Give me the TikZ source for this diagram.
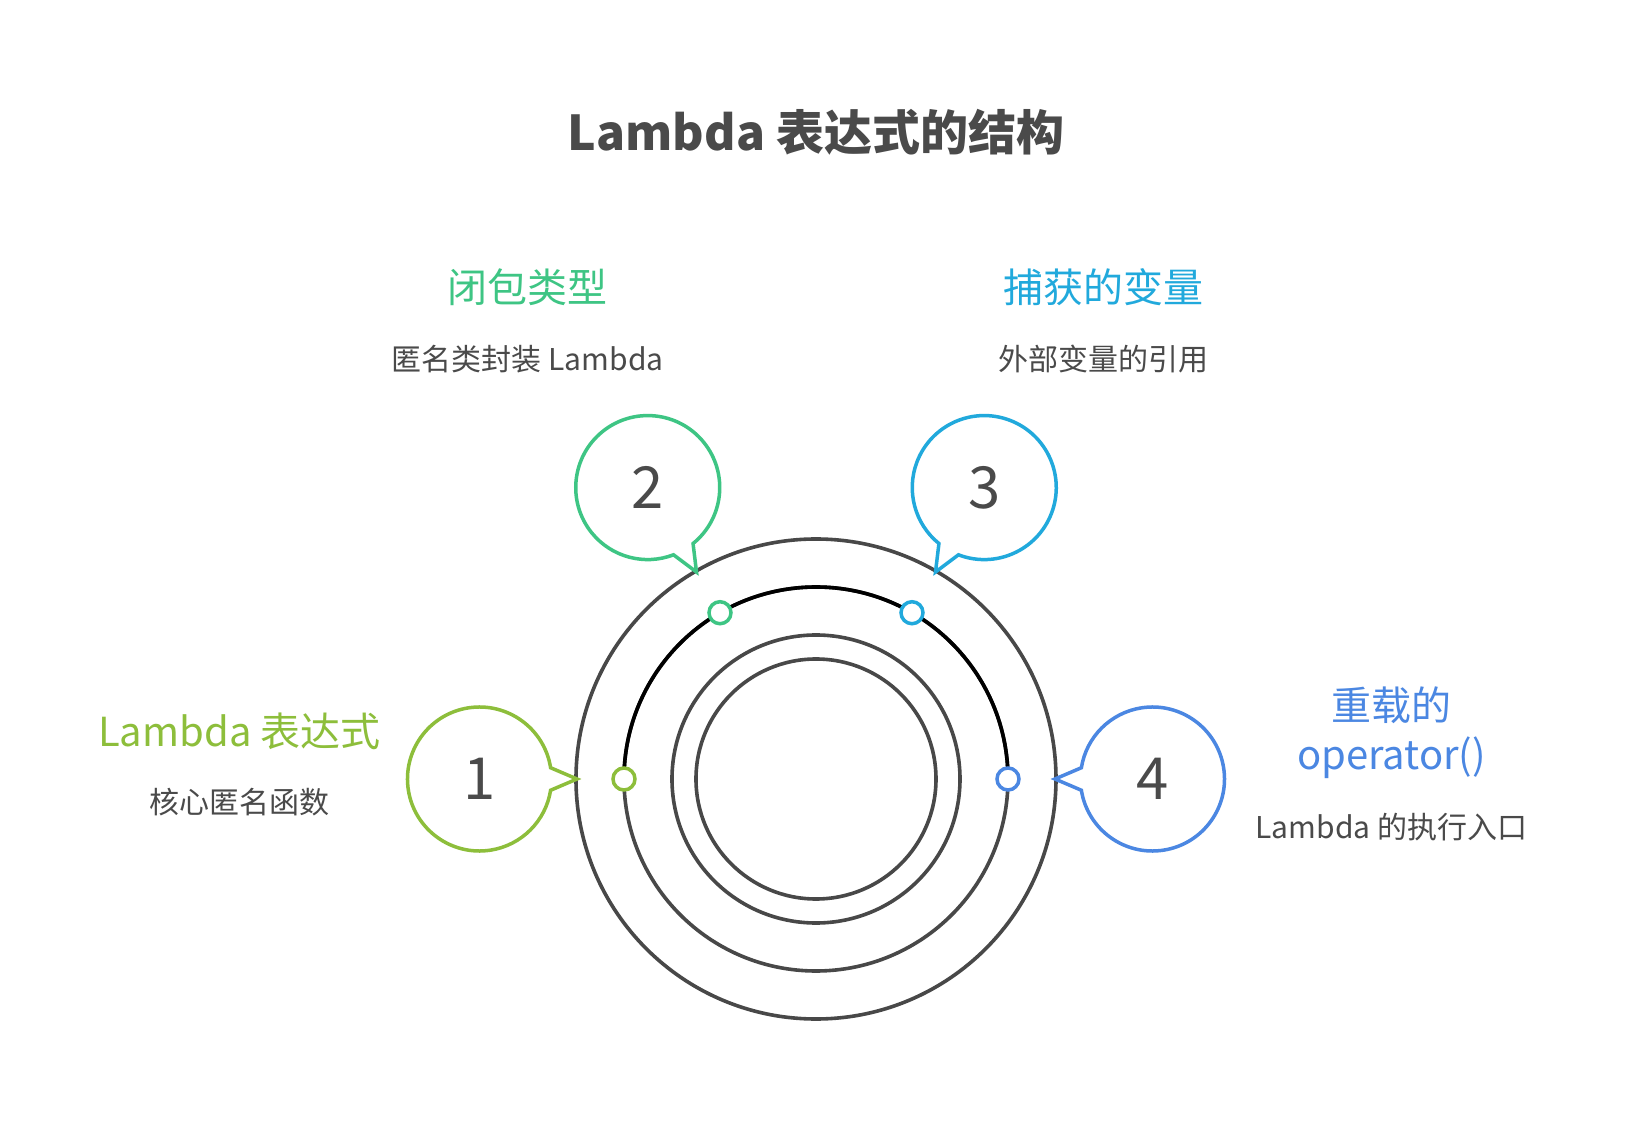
\documentclass[tikz,border=0pt]{standalone}
\usepackage{fontspec}
\setmainfont{Noto Sans CJK SC}
\definecolor{ringgray}{HTML}{484848}
\definecolor{txtgray}{HTML}{4A4A4A}
\definecolor{lamgreen}{HTML}{8DBE3B}
\definecolor{closgreen}{HTML}{3EC584}
\definecolor{capblue}{HTML}{21A9DC}
\definecolor{opblue}{HTML}{4B87E2}
\usetikzlibrary{positioning}

\tikzset{
  ring/.style={draw=ringgray, line width=3.6pt},
  bubble/.style={line width=3.5pt, line join=miter},
  numtext/.style={text=txtgray, font=\fontsize{58}{58}\selectfont},
  dot/.style={circle, draw=#1, line width=3.5pt, fill=white, minimum size=22pt, inner sep=0pt},
  heading/.style={text=#1, font=\fontsize{40}{49}\selectfont, align=center},
  caption/.style={text=txtgray, font=\fontsize{30}{34}\selectfont},
}

\begin{document}
\begin{tikzpicture}[x=1pt, y=1pt]
\fill[white] (-816,-361) rectangle (816,779);
\useasboundingbox (-816,-361) rectangle (816,779);

% title
\node[text=txtgray, font=\bfseries\fontsize{48}{54}\selectfont] (title) at (0,647) {Lambda 表达式的结构};

% rings
\coordinate (core) at (0,0);
\draw[ring] (core) circle[radius=240];
\draw[ring] (core) circle[radius=192];
\draw[line width=3.6pt, black] (192,0) arc[start angle=0, end angle=180, radius=192];
\draw[ring] (core) circle[radius=144];
\draw[ring] (core) circle[radius=120];

% dots on the ring
\node[dot=lamgreen] (d1) at (180:192) {};
\node[dot=closgreen] (d2) at (120:192) {};
\node[dot=capblue] (d3) at (60:192) {};
\node[dot=opblue] (d4) at (0:192) {};

% tips on the outer ring
\coordinate (t1) at (180:239);
\coordinate (t2) at (120:239);
\coordinate (t3) at (60:239);
\coordinate (t4) at (0:239);

% bubbles
\node[numtext] (n1) at (180:336.5) {1};
\node[numtext] (n2) at (120:336.5) {2};
\node[numtext] (n3) at (60:336.5) {3};
\node[numtext] (n4) at (0:336.5) {4};
\draw[bubble, draw=lamgreen] (n1.center) ++(9:72) arc[start angle=9, end angle=351, radius=72] -- (t1) -- cycle;
\draw[bubble, draw=closgreen] (n2.center) ++(309:72) arc[start angle=309, end angle=651, radius=72] -- (t2) -- cycle;
\draw[bubble, draw=capblue] (n3.center) ++(249:72) arc[start angle=249, end angle=591, radius=72] -- (t3) -- cycle;
\draw[bubble, draw=opblue] (n4.center) ++(189:72) arc[start angle=189, end angle=531, radius=72] -- (t4) -- cycle;

% labels
\node[heading=lamgreen] (h1) at (-576.6,47.3) {Lambda 表达式};
\node[caption] (c1) at (-576.6,-23.5) {核心匿名函数};
\node[heading=closgreen] (h2) at (-288.3,492) {闭包类型};
\node[caption] (c2) at (-288.3,420) {匿名类封装 Lambda};
\node[heading=capblue] (h3) at (287,492) {捕获的变量};
\node[caption] (c3) at (287,420) {外部变量的引用};
\node[heading=opblue] (h4) at (575.5,46.8) {重载的\\operator()};
\node[caption] (c4) at (575.5,-48.5) {Lambda 的执行入口};
\end{tikzpicture}
\end{document}
